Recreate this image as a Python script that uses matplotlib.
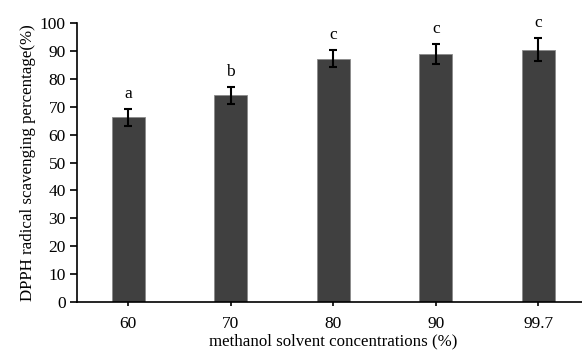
import matplotlib
matplotlib.use('Agg')
import matplotlib.pyplot as plt
import numpy as np

concentrations = ['60', '70', '80', '90', '99.7']
scavenging = [66.2, 74.1, 87.2, 88.9, 90.5]
errors = [3.1, 3.0, 3.0, 3.5, 4.0]
letters = ['a', 'b', 'c', 'c', 'c']

plt.rcParams['font.family'] = ['Liberation Serif', 'DejaVu Serif']

fig = plt.figure(figsize=(5.82, 3.53), dpi=100)
ax = fig.add_axes([0.1323, 0.1445, 0.8806, 0.790])

x = np.arange(len(concentrations))
ax.bar(x, scavenging, width=0.325, color='#404040', edgecolor='#8a8a8a',
       linewidth=0.6)
ax.errorbar(x, scavenging, yerr=errors, fmt='none', ecolor='black',
            elinewidth=1.5, capsize=3, capthick=1.5)

for xi, v, e, lab in zip(x, scavenging, errors, letters):
    ax.text(xi, v + e + 2.5, lab, ha='center', va='bottom', fontsize=12.5)

ax.set_xlim(-0.5, 4.5)
ax.set_ylim(0, 100)
ax.set_yticks(np.arange(0, 101, 10))
ax.set_xticks(x)
ax.set_xticklabels(concentrations)
ax.tick_params(axis='both', labelsize=12.5, direction='out', width=1.2)
ax.tick_params(axis='y', length=5, pad=3)
ax.tick_params(axis='x', length=3, pad=7)

for s in ['top', 'right']:
    ax.spines[s].set_visible(False)
for s in ['left', 'bottom']:
    ax.spines[s].set_linewidth(1.2)

ax.set_xlabel('methanol solvent concentrations (%)', fontsize=12.2, labelpad=1)
ax.set_ylabel('DPPH radical scavenging percentage(%)', fontsize=12.2, labelpad=3)

fig.savefig('out.png', dpi=100)
